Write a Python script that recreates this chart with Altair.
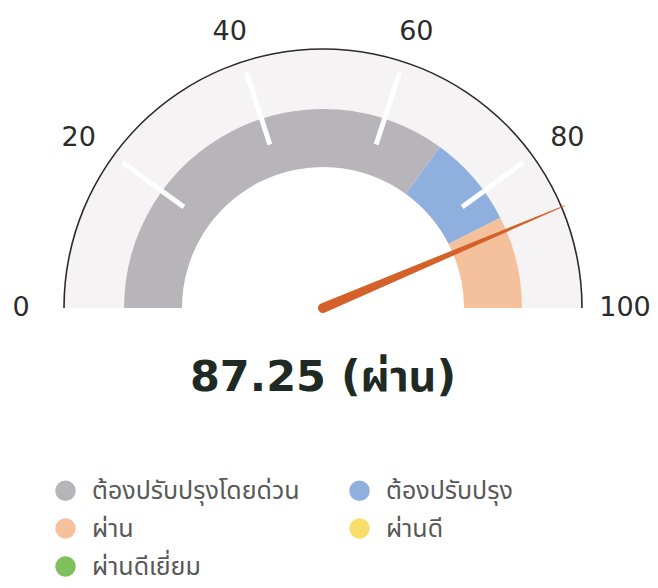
import math
import pandas as pd
import altair as alt

# ---- data ----
VALUE = 87.25
STATUS = "ผ่าน"
CATEGORIES = ["ต้องปรับปรุงโดยด่วน", "ต้องปรับปรุง", "ผ่าน", "ผ่านดี", "ผ่านดีเยี่ยม"]
CAT_COLORS = ["#b8b5ba", "#8fb0df", "#f5c19d", "#f8df6c", "#7fbf5c"]
SEG_CAT = ["ต้องปรับปรุงโดยด่วน", "ต้องปรับปรุง", "ผ่าน"]
SEG_START = [0, 70, 85]
SEG_END = [70, 85, 100]
TICK_LABELS = [0, 20, 40, 60, 80, 100]
INNER_TICKS = [20, 40, 60, 80]
GAUGE_MIN, GAUGE_MAX = 0, 100

# ---- geometry / style constants ----
W, H = 642, 576
CX_PX, CY_PX = 315, 300
R_OUT = 259
R_BAND_OUT = 199
R_BAND_IN = 141
LABEL_RX, LABEL_RY = 302, 290
R_TICK_IN, R_TICK_OUT = 172, 248
R_NEEDLE = 262

XS = alt.Scale(domain=[-CX_PX, W - CX_PX], range=[0, W])
YS = alt.Scale(domain=[-(H - CY_PX), CY_PX], range=[H, 0])
TS = alt.Scale(domain=[GAUGE_MIN, GAUGE_MAX], range=[-math.pi / 2, math.pi / 2])

ANG = f"PI * (1 - (datum.v - {GAUGE_MIN}) / ({GAUGE_MAX} - {GAUGE_MIN}))"

center_enc = dict(
    x=alt.X("cx:Q", scale=XS, axis=None),
    y=alt.Y("cy:Q", scale=YS, axis=None),
)

full_df = pd.DataFrame({"start": [GAUGE_MIN], "end": [GAUGE_MAX]})

bg_band = alt.Chart(full_df).mark_arc(
    radius=R_OUT, radius2=R_BAND_OUT, color="#f6f3f5", stroke=None
).transform_calculate(cx="0", cy="0").encode(
    theta=alt.Theta("start:Q", scale=TS), theta2="end:Q", **center_enc
)

outer_line = alt.Chart(full_df).mark_arc(
    radius=R_OUT + 0.8, radius2=R_OUT - 0.8, color="#2a2a2a", stroke=None
).transform_calculate(cx="0", cy="0").encode(
    theta=alt.Theta("start:Q", scale=TS), theta2="end:Q", **center_enc
)

seg_df = pd.DataFrame({"cat": SEG_CAT, "start": SEG_START, "end": SEG_END})
band = alt.Chart(seg_df).mark_arc(
    radius=R_BAND_OUT, radius2=R_BAND_IN, stroke=None
).transform_calculate(cx="0", cy="0").encode(
    theta=alt.Theta("start:Q", scale=TS), theta2="end:Q",
    color=alt.Color(
        "cat:N",
        scale=alt.Scale(domain=CATEGORIES, range=CAT_COLORS),
        legend=alt.Legend(
            title=None, orient="none", legendX=45, legendY=470,
            direction="horizontal", columns=2, columnPadding=47, rowPadding=12,
            symbolType="circle", symbolSize=420, symbolStrokeWidth=0,
            labelFontSize=25, labelColor="#585858", labelOffset=14,
            labelFont="Noto Sans Thai, DejaVu Sans", labelLimit=400,
        ),
    ),
    **center_enc,
)

tick_df = pd.DataFrame({"v": INNER_TICKS})
ticks = alt.Chart(tick_df).mark_rule(color="white", strokeWidth=5).transform_calculate(
    x1=f"{R_TICK_IN} * cos({ANG})", y1=f"{R_TICK_IN} * sin({ANG})",
    x2=f"{R_TICK_OUT} * cos({ANG})", y2=f"{R_TICK_OUT} * sin({ANG})",
).encode(
    x=alt.X("x1:Q", scale=XS, axis=None), y=alt.Y("y1:Q", scale=YS, axis=None),
    x2="x2:Q", y2="y2:Q",
)

label_df = pd.DataFrame({"v": TICK_LABELS})
labels = alt.Chart(label_df).mark_text(
    font="DejaVu Sans", fontSize=27, color="#2b2b2b",
    align="center", baseline="middle",
).transform_calculate(
    lx=f"{LABEL_RX} * cos({ANG})", ly=f"{LABEL_RY} * sin({ANG})",
).encode(
    x=alt.X("lx:Q", scale=XS, axis=None), y=alt.Y("ly:Q", scale=YS, axis=None),
    text=alt.Text("v:Q", format="d"),
)

needle_df = pd.DataFrame({"v": [VALUE, VALUE], "r": [0, R_NEEDLE], "w": [10, 1]})
needle = alt.Chart(needle_df).mark_trail(color="#d4602a").transform_calculate(
    nx=f"datum.r * cos({ANG})", ny=f"datum.r * sin({ANG})",
).encode(
    x=alt.X("nx:Q", scale=XS, axis=None), y=alt.Y("ny:Q", scale=YS, axis=None),
    size=alt.Size("w:Q", scale=None, legend=None),
    order=alt.Order("r:Q"),
)

title_df = pd.DataFrame({"t": [f"{VALUE:.2f} ({STATUS})"]})
title = alt.Chart(title_df).mark_text(
    font="DejaVu Sans, Noto Sans Thai", fontSize=43, fontWeight="bold",
    color="#1f2a25", align="center", baseline="middle",
).encode(x=alt.value(CX_PX), y=alt.value(370), text="t:N")

chart = alt.layer(bg_band, band, ticks, outer_line, needle, labels, title).properties(
    width=W, height=H, padding=0, autosize=alt.AutoSizeParams(type="none"),
).configure_view(stroke=None)

chart.save("out.html", embed_options={"renderer": "svg", "actions": False})
